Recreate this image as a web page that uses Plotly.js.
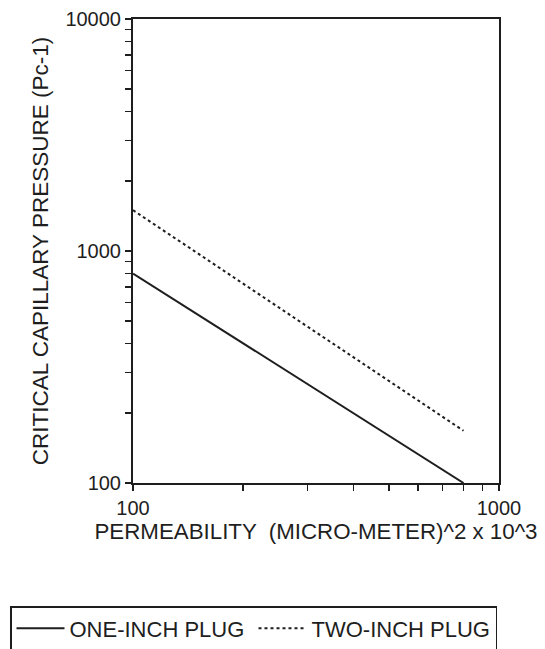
<!DOCTYPE html>
<html>
<head>
<meta charset="utf-8">
<script src="https://cdn.plot.ly/plotly-3.0.1.min.js"></script>
<style>html,body{margin:0;padding:0;background:#fff;}#chart{width:545px;height:649px;}</style>
</head>
<body>
<div id="chart"></div>
<script>
// Data (log-log)
var permOne = [100, 800];
var pcOne = [800, 100];
var permTwo = [100, 800];
var pcTwo = [1500, 168];
var seriesNames = ['ONE-INCH PLUG', 'TWO-INCH PLUG'];
var xTickVals = [100, 1000];
var xTickText = ['100', '1000'];
var yTickVals = [100, 1000, 10000];
var yTickText = ['100', '1000', '10000'];
var xMinorVals = [200, 300, 400, 500, 600, 700, 800, 900];
var yMinorVals = [200, 300, 400, 500, 600, 700, 800, 900, 2000, 3000, 4000, 5000, 6000, 7000, 8000, 9000];

var ink = '#1e1e1e';
var fontFam = 'Liberation Sans, Arial, sans-serif';

var traces = [
  {x: permOne, y: pcOne, mode: 'lines', name: seriesNames[0],
   line: {color: ink, width: 2, dash: 'solid'}},
  {x: permTwo, y: pcTwo, mode: 'lines', name: seriesNames[1],
   line: {color: ink, width: 2, dash: 'dot'}}
];

var layout = {
  width: 545, height: 649,
  margin: {l: 133, r: 46, t: 19, b: 166, autoexpand: false},
  paper_bgcolor: '#fff', plot_bgcolor: '#fff',
  font: {family: fontFam, color: ink, size: 18},
  showlegend: true,
  xaxis: {
    type: 'log', range: [2, 3],
    tickvals: xTickVals, ticktext: xTickText,
    ticks: 'outside', ticklen: 6, tickwidth: 1.5, tickcolor: ink,
    showgrid: false, zeroline: false,
    showline: true, linecolor: ink, linewidth: 2, mirror: true,
    tickfont: {size: 20, family: fontFam, color: ink},
    minor: {tickvals: xMinorVals, ticks: 'outside', ticklen: 6, tickwidth: 1.5, tickcolor: ink, showgrid: false},
    title: {text: 'PERMEABILITY  (MICRO-METER)^2 x 10^3', font: {size: 22.3, family: fontFam, color: ink}, standoff: 2}
  },
  yaxis: {
    type: 'log', range: [2, 4],
    tickvals: yTickVals, ticktext: yTickText,
    ticks: 'outside', ticklen: 6, tickwidth: 1.5, tickcolor: ink,
    showgrid: false, zeroline: false,
    showline: true, linecolor: ink, linewidth: 2, mirror: true,
    tickfont: {size: 20, family: fontFam, color: ink},
    minor: {tickvals: yMinorVals, ticks: 'outside', ticklen: 6, tickwidth: 1.5, tickcolor: ink, showgrid: false},
    title: {text: 'CRITICAL CAPILLARY PRESSURE (Pc-1)', font: {size: 22.5, family: fontFam, color: ink}, standoff: 11}
  },
  legend: {
    orientation: 'h',
    xref: 'paper', yref: 'paper',
    x: (10 - 133) / 366, xanchor: 'left',
    y: (483 - 606) / 464, yanchor: 'top',
    bordercolor: ink, borderwidth: 1.5,
    bgcolor: '#fff',
    itemwidth: 48,
    entrywidth: 179,
    font: {size: 22, family: fontFam, color: ink}
  }
};

Plotly.newPlot('chart', traces, layout, {displayModeBar: false, staticPlot: true});
</script>
</body>
</html>
